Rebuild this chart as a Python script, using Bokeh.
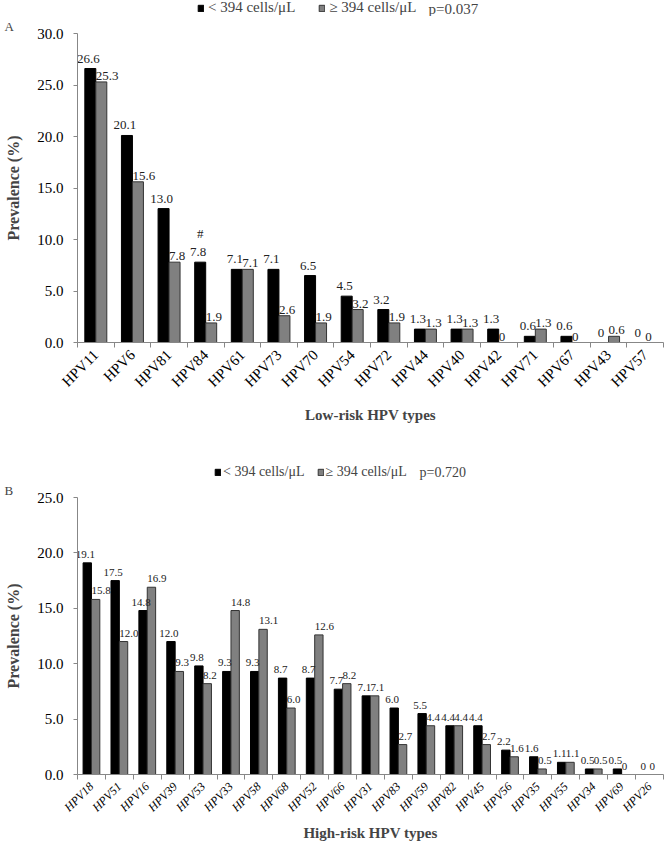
import math
from bokeh.plotting import figure
from bokeh.models import (ColumnDataSource, Range1d, FixedTicker, SingleIntervalTicker,
                          PrintfTickFormatter, Legend, LegendItem, Title, Label)
from bokeh.transform import dodge
from bokeh.layouts import column
from bokeh.embed import file_html
from bokeh.resources import INLINE

# ---------------- data ----------------
low_types = ["HPV11", "HPV6", "HPV81", "HPV84", "HPV61", "HPV73", "HPV70", "HPV54",
             "HPV72", "HPV44", "HPV40", "HPV42", "HPV71", "HPV67", "HPV43", "HPV57"]
low_lt394 = [26.6, 20.1, 13.0, 7.8, 7.1, 7.1, 6.5, 4.5, 3.2, 1.3, 1.3, 1.3, 0.6, 0.6, 0, 0]
low_ge394 = [25.3, 15.6, 7.8, 1.9, 7.1, 2.6, 1.9, 3.2, 1.9, 1.3, 1.3, 0, 1.3, 0, 0.6, 0]
low_mark = ["", "", "", "#", "", "", "", "", "", "", "", "", "", "", "", ""]
low_p = "p=0.037"

high_types = ["HPV18", "HPV51", "HPV16", "HPV39", "HPV53", "HPV33", "HPV58", "HPV68",
              "HPV52", "HPV66", "HPV31", "HPV83", "HPV59", "HPV82", "HPV45", "HPV56",
              "HPV35", "HPV55", "HPV34", "HPV69", "HPV26"]
high_lt394 = [19.1, 17.5, 14.8, 12.0, 9.8, 9.3, 9.3, 8.7, 8.7, 7.7, 7.1, 6.0, 5.5, 4.4,
              4.4, 2.2, 1.6, 1.1, 0.5, 0.5, 0]
high_ge394 = [15.8, 12.0, 16.9, 9.3, 8.2, 14.8, 13.1, 6.0, 12.6, 8.2, 7.1, 2.7, 4.4, 4.4,
              2.7, 1.6, 0.5, 1.1, 0.5, 0, 0]
high_p = "p=0.720"

series_names = ["< 394 cells/μL", "≥ 394 cells/μL"]

FONT = "Liberation Serif"
AXIS_COL = "#878787"
BLACK_STYLE = dict(fill_color="black", line_color="black")
GRAY_STYLE = dict(fill_color="#808080", line_color="#333333")
LEFT = 77


def fmt(v):
    return "0" if v == 0 else f"{v:.1f}"


def make_header(pval, height, leg_x, size, standoff, spacing, p_x):
    """A strip holding the series key and the p value of one panel."""
    h = figure(width=665, height=height, output_backend="svg", toolbar_location=None,
               x_axis_location=None, y_axis_location=None, outline_line_color=None,
               min_border_left=LEFT, min_border_right=2, min_border_top=0,
               min_border_bottom=0, x_range=Range1d(0, 1), y_range=Range1d(0, 1))
    h.grid.visible = False
    # key swatches (their bar lies below the visible range)
    k1 = h.vbar(x=[0.5], top=[-2], bottom=[-1], width=0.1, **BLACK_STYLE)
    k2 = h.vbar(x=[0.5], top=[-2], bottom=[-1], width=0.1, **GRAY_STYLE)
    legend = Legend(items=[LegendItem(label=series_names[0], renderers=[k1]),
                           LegendItem(label=series_names[1], renderers=[k2])],
                    orientation="horizontal", location=(leg_x, 0),
                    glyph_width=7, glyph_height=8, label_standoff=standoff,
                    spacing=spacing, padding=0, margin=0, border_line_color=None,
                    background_fill_alpha=0, label_text_font=FONT,
                    label_text_font_size=size, label_height=14)
    h.add_layout(legend)
    h.add_layout(Label(x=p_x, y=8, x_units="screen", y_units="screen", text=pval,
                       text_font=FONT, text_font_size=size, text_baseline="middle",
                       text_align="left"))
    return h


def make_panel(types, a, b, ymax, letter, xtitle, height, top, bottom,
               lbl_size, tick_size, tick_style, xtitle_standoff, letter_standoff,
               marks=None, gray_dy=-2, black_dy=-6):
    n = len(types)
    src = ColumnDataSource(dict(
        pos=[i + 0.5 for i in range(n)], a=a, b=b,
        a_lbl=[fmt(v) for v in a], b_lbl=[fmt(v) for v in b],
        mark=marks if marks else [""] * n,
    ))
    p = figure(width=665, height=height, output_backend="svg", toolbar_location=None,
               x_range=Range1d(0, n), y_range=Range1d(0, ymax),
               min_border_top=top, min_border_bottom=bottom, min_border_left=LEFT,
               min_border_right=2, outline_line_color=None)
    p.grid.visible = False

    p.vbar(x=dodge("pos", -0.15), top="a", width=0.3, source=src, line_width=1,
           **BLACK_STYLE)
    p.vbar(x=dodge("pos", 0.15), top="b", width=0.3, source=src, line_width=1,
           **GRAY_STYLE)

    p.text(x=dodge("pos", -0.15), y="a", text="a_lbl", source=src,
           text_font=FONT, text_font_size=lbl_size, text_color="#222222",
           text_align="center", text_baseline="bottom", x_offset=-2, y_offset=black_dy)
    p.text(x=dodge("pos", 0.0), y="b", text="b_lbl", source=src,
           text_font=FONT, text_font_size=lbl_size, text_color="#222222",
           text_align="left", text_baseline="bottom", x_offset=0, y_offset=gray_dy)
    if marks:
        p.text(x=dodge("pos", -0.15), y="a", text="mark", source=src,
               text_font=FONT, text_font_size=lbl_size, text_color="#222222",
               text_align="center", text_baseline="bottom", x_offset=0,
               y_offset=black_dy - 15)

    # x axis: labels at category centres, tick marks at category boundaries
    xa = p.xaxis[0]
    xa.ticker = FixedTicker(ticks=[i + 0.5 for i in range(n)],
                            minor_ticks=[float(i) for i in range(n + 1)])
    xa.major_label_overrides = {i + 0.5: t for i, t in enumerate(types)}
    xa.major_label_orientation = math.pi / 4
    xa.major_tick_out = 0
    xa.major_tick_in = 0
    xa.minor_tick_out = 5
    xa.minor_tick_in = 0
    xa.minor_tick_line_color = AXIS_COL
    xa.axis_line_color = AXIS_COL
    xa.major_label_text_font = FONT
    xa.major_label_text_font_size = tick_size
    xa.major_label_text_font_style = tick_style
    xa.major_label_text_color = "black"
    xa.major_label_standoff = 5
    xa.axis_label = xtitle
    xa.axis_label_text_font = FONT
    xa.axis_label_text_font_size = "15px"
    xa.axis_label_text_font_style = "bold"
    xa.axis_label_standoff = xtitle_standoff

    ya = p.yaxis[0]
    ya.ticker = SingleIntervalTicker(interval=5)
    ya.formatter = PrintfTickFormatter(format="%.1f")
    ya.minor_tick_line_color = None
    ya.major_tick_out = 4
    ya.major_tick_in = 0
    ya.major_tick_line_color = AXIS_COL
    ya.axis_line_color = AXIS_COL
    ya.major_label_text_font = FONT
    ya.major_label_text_font_size = "15px"
    ya.major_label_text_color = "black"
    ya.major_label_standoff = 10
    ya.axis_label = "Prevalence (%)"
    ya.axis_label_text_font = FONT
    ya.axis_label_text_font_size = "16px"
    ya.axis_label_text_font_style = "bold"
    ya.axis_label_standoff = 12

    # panel letter, directly above the frame at the far left
    p.add_layout(Title(text=letter, align="left", offset=-LEFT + 4,
                       text_font=FONT, text_font_size="13px",
                       text_font_style="normal", standoff=letter_standoff), "above")
    return p


head_a = make_header(low_p, 16, 197 - LEFT, "15px", 4, 23, 351)
pa = make_panel(low_types, low_lt394, low_ge394, 30, "A", "Low-risk HPV types",
                height=430, top=16, bottom=104, lbl_size="13px",
                tick_size="15px", tick_style="normal", xtitle_standoff=8,
                letter_standoff=0, marks=low_mark, gray_dy=-2, black_dy=-6)
head_b = make_header(high_p, 34, 214 - LEFT, "14px", 2, 12, 342)
pb = make_panel(high_types, high_lt394, high_ge394, 25, "B", "High-risk HPV types",
                height=369, top=17, bottom=75, lbl_size="11px",
                tick_size="12px", tick_style="italic", xtitle_standoff=3,
                letter_standoff=0, gray_dy=-5, black_dy=-5)

layout = column(head_a, pa, head_b, pb, spacing=0)
open("out.html", "w").write(file_html(layout, INLINE))
